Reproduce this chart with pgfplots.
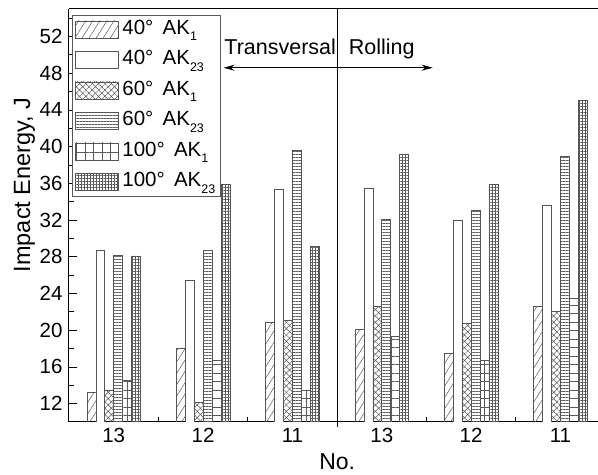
\documentclass[border=0pt]{standalone}
\usepackage{fontspec}
\setmainfont{Liberation Sans}
\usepackage{pgfplots}
\pgfplotsset{compat=1.18}
\usetikzlibrary{patterns.meta,arrows.meta}
\definecolor{barline}{HTML}{555555}
\definecolor{hatch}{HTML}{5A5A5A}
\newcommand{\sub}[1]{\raisebox{-6.5pt}{\fontsize{12.5}{13}\selectfont #1}}

\begin{document}
\begin{tikzpicture}
\begin{axis}[
    width=529pt, height=413pt, scale only axis,
    xmin=0.5, xmax=6.42, ymin=10, ymax=55,
    ybar=0pt, bar width=0.1,
    axis y line*=left,
    axis line style={line width=1pt},
    xtick={1,...,6},
    xticklabels={13,12,11,13,12,11},
    minor xtick={1.5,2.5,4.5,5.5},
    major x tick style={draw=none},
    xtick pos=left,
    ytick={12,16,...,52},
    minor ytick={14,18,...,54},
    tick align=inside,
    major tick length=8pt, minor tick length=5pt,
    tick style={line width=0.8pt, black},
    /pgf/number format/assume math mode=true,
    tick label style={font=\fontsize{20.5}{22}\selectfont},
    xticklabel style={yshift=-3pt},
    yticklabel style={xshift=-3pt},
    xlabel={No.},
    ylabel={Impact Energy, J},
    xlabel style={font=\fontsize{23}{25}\selectfont, at={(axis description cs:0.507,-0.097)}, anchor=center},
    ylabel style={font=\fontsize{23.5}{25}\selectfont, at={(axis description cs:-0.084,0.574)}, anchor=center},
    legend image code/.code={\draw[#1] (0pt,-8.5pt) rectangle (43pt,8.5pt);},
    legend cell align=left,
    legend style={at={(0.005,0.985)}, anchor=north west, draw=black!65,
        font=\fontsize{20.5}{22}\selectfont, row sep=6.5pt, column sep=2pt,
        nodes={inner sep=2pt, text height=15pt, text depth=5pt}},
]
% 40 deg AK1
\addplot[draw=barline, line width=0.6pt, bar shift=-0.25, pattern color=hatch,
    pattern={Lines[angle=58,distance=6pt,line width=0.5pt]}]
    coordinates {(1,13.2) (2,18.0) (3,20.9) (4,20.1) (5,17.5) (6,22.6)};
% 40 deg AK23
\addplot[draw=barline, line width=0.6pt, bar shift=-0.15, fill=white]
    coordinates {(1,28.7) (2,25.4) (3,35.4) (4,35.45) (5,32.0) (6,33.6)};
% 60 deg AK1
\addplot[draw=barline, line width=0.6pt, bar shift=-0.05, pattern color=hatch,
    pattern={Hatch[angle=45,distance=4.5pt,line width=0.5pt]}]
    coordinates {(1,13.5) (2,12.1) (3,21.05) (4,22.6) (5,20.7) (6,22.1)};
% 60 deg AK23
\addplot[draw=barline, line width=0.6pt, bar shift=0.05, pattern color=hatch,
    pattern={Lines[angle=0,distance=3pt,line width=0.5pt]}]
    coordinates {(1,28.2) (2,28.7) (3,39.6) (4,32.1) (5,33.05) (6,39.0)};
% 100 deg AK1
\addplot[draw=barline, line width=0.6pt, bar shift=0.15, pattern color=hatch,
    pattern={Hatch[angle=0,distance=8.5pt,line width=0.5pt]}]
    coordinates {(1,14.5) (2,16.7) (3,13.5) (4,19.3) (5,16.7) (6,23.5)};
% 100 deg AK23
\addplot[draw=barline, line width=0.6pt, bar shift=0.25, pattern color=hatch,
    pattern={Hatch[angle=0,distance=3pt,line width=0.5pt]}]
    coordinates {(1,28.1) (2,35.9) (3,29.15) (4,39.2) (5,35.9) (6,45.0)};
\legend{40°\hspace{0.45em}AK\sub{1}, 40°\hspace{0.45em}AK\sub{23},
        60°\hspace{0.45em}AK\sub{1}, 60°\hspace{0.45em}AK\sub{23},
        100°\hspace{0.45em}AK\sub{1}, 100°\hspace{0.45em}AK\sub{23}}

% divider and direction labels
\draw[line width=0.8pt] (axis cs:3.5,55) -- (axis cs:3.5,10);
\coordinate (divbot) at (axis cs:3.5,10);
\node[anchor=base east, inner sep=0pt, font=\fontsize{21.5}{24}\selectfont] at (axis cs:3.49,50) {Transversal};
\node[anchor=base west, inner sep=0pt, font=\fontsize{21.5}{24}\selectfont] at (axis cs:3.63,50) {Rolling};
\draw[line width=0.8pt, -{Stealth[length=11pt,width=6pt]}] (axis cs:3.5,48.6) -- (axis cs:2.23,48.6);
\draw[line width=0.8pt, -{Stealth[length=11pt,width=6pt]}] (axis cs:3.5,48.6) -- (axis cs:4.57,48.6);
\end{axis}
\draw[line width=0.8pt] (divbot) -- ++(0,-5pt);
\pgfresetboundingbox
\path ([shift={(-69pt,-53pt)}]current axis.south west) rectangle ([shift={(0pt,9pt)}]current axis.north east);
\end{tikzpicture}
\end{document}
